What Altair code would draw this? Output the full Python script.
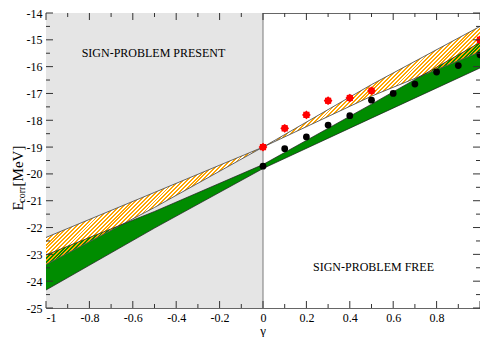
import altair as alt
import pandas as pd
import numpy as np

# ---------------- data ----------------
gamma_band = [-1.0, -0.5, 0.0, 0.5, 1.0]
orange_top = [-22.37, -20.69, -19.00, -16.67, -14.50]
orange_bot = [-23.38, -21.25, -19.00, -17.10, -15.45]
green_top = [-23.02, -21.40, -19.65, -17.40, -15.10]
green_bot = [-24.33, -22.02, -19.80, -17.92, -16.05]

gamma_red = [0.0, 0.1, 0.2, 0.3, 0.4, 0.5, 1.0]
e_red = [-19.0, -18.3, -17.8, -17.27, -17.17, -16.9, -15.0]

gamma_black = [0.0, 0.1, 0.2, 0.3, 0.4, 0.5, 0.6, 0.7, 0.8, 0.9, 1.0]
e_black = [-19.71, -19.06, -18.62, -18.18, -17.83, -17.25, -17.0, -16.65, -16.2, -15.96, -15.56]

x_major = [-1.0, -0.8, -0.6, -0.4, -0.2, 0.0, 0.2, 0.4, 0.6, 0.8, 1.0]
x_minor = [-0.9, -0.7, -0.5, -0.3, -0.1, 0.1, 0.3, 0.5, 0.7, 0.9]
x_labels = [-1.0, -0.8, -0.6, -0.4, -0.2, 0.0, 0.2, 0.4, 0.6, 0.8]
y_major = [-25, -24, -23, -22, -21, -20, -19, -18, -17, -16, -15, -14]
y_minor = [-24.5, -23.5, -22.5, -21.5, -20.5, -19.5, -18.5, -17.5, -16.5, -15.5, -14.5]

region_left = [-1.0]
region_right = [0.0]

title_text = "60 neutrons"
present_text = "SIGN-PROBLEM PRESENT"
free_text = "SIGN-PROBLEM FREE"

# ---------------- layout / style ----------------
W, H = 434, 295
PAD = {"left": 38, "top": 5, "right": 0, "bottom": 29}
FONT = "Liberation Serif"
ORANGE = "#ffa500"
GREEN = "#008c00"

band = pd.DataFrame({"g": gamma_band, "ot": orange_top, "ob": orange_bot,
                     "gt": green_top, "gb": green_bot})
red = pd.DataFrame({"g": gamma_red, "e": e_red})
black = pd.DataFrame({"g": gamma_black, "e": e_black})

xs = alt.Scale(domain=[-1, 1], nice=False, zero=False)
ys = alt.Scale(domain=[-25, -14], nice=False, zero=False)

X_AX = alt.Axis(values=x_labels, ticks=False, domain=False, grid=False, title=None,
                labelFont=FONT, labelFontSize=12, labelColor="black", labelPadding=4,
                labelExpr="(datum.value < 0 ? '-' : '') + format(abs(datum.value), '.1~f')")
Y_AX = alt.Axis(values=y_major, ticks=False, domain=False, grid=False, title=None,
                labelFont=FONT, labelFontSize=12, labelColor="black", labelPadding=4,
                labelExpr="(datum.value < 0 ? '-' : '') + format(abs(datum.value), 'd')")

X = lambda f: alt.X(f, type="quantitative", scale=xs, axis=X_AX)
Y = lambda f: alt.Y(f, type="quantitative", scale=ys, axis=Y_AX)

# grey "sign-problem present" region
grey = alt.Chart(pd.DataFrame({"a": region_left, "b": region_right})).mark_rect(
    color="#e5e5e5").encode(x=X("a"), x2="b", y=alt.value(0), y2=alt.value(H))

# white under-layer of the hatched band
under = alt.Chart(band).mark_area(color="white", opacity=1).encode(
    x=X("g"), y=Y("ot"), y2="ob")

green_area = alt.Chart(band).mark_area(color=GREEN, opacity=1).encode(
    x=X("g"), y=Y("gt"), y2="gb")

# hatch: hard-edged stripes via a linear gradient
bw, bh = W, (max(orange_top) - min(orange_bot)) / 11 * H
r = bh / bw
a = (1 + r) / (1 + r * r)
period = 2.7
n = int(round((bw + bh) / np.sqrt(2) / period))
stops = []
for i in range(n):
    stops += [alt.GradientStop(offset=i / n, color=ORANGE),
              alt.GradientStop(offset=(i + 0.5) / n, color=ORANGE),
              alt.GradientStop(offset=(i + 0.5) / n, color="rgba(255,255,255,0)"),
              alt.GradientStop(offset=(i + 1) / n, color="rgba(255,255,255,0)")]
hatch_fill = alt.Gradient(gradient="linear", stops=stops, x1=0, y1=0, x2=a, y2=a * r)

hatch = alt.Chart(band).mark_area(fill=hatch_fill, opacity=1).encode(
    x=X("g"), y=Y("ot"), y2="ob")

edge = lambda col, color, w: alt.Chart(band).mark_line(color=color, strokeWidth=w).encode(
    x=X("g"), y=Y(col))

edges = [edge("ot", "#555555", 0.9), edge("ob", "#555555", 0.9),
         edge("gt", "#1a1a1a", 0.7), edge("gb", "#1a1a1a", 0.7)]

zero_line = alt.Chart(pd.DataFrame({"a": region_right})).mark_rule(
    color="#7a7a7a", strokeWidth=1).encode(x=X("a"), y=alt.value(0), y2=alt.value(H))

# 8-point star for red symbols
pts = []
for k in range(16):
    ang = np.pi / 2 + k * np.pi / 8
    rad = 1.0 if k % 2 == 0 else 0.8
    pts.append(f"{rad*np.cos(ang):.3f},{-rad*np.sin(ang):.3f}")
star = "M" + "L".join(pts) + "Z"

red_pts = alt.Chart(red).mark_point(shape=star, filled=True, color="#ff0000",
                                    size=75, opacity=1).encode(x=X("g"), y=Y("e"))
black_pts = alt.Chart(black).mark_circle(color="black", size=46, opacity=1).encode(
    x=X("g"), y=Y("e"))

# inward ticks on all four sides
def xticks(vals, ln):
    d = pd.DataFrame({"v": vals})
    base = alt.Chart(d).mark_rule(color="#333333", strokeWidth=1)
    return [base.encode(x=X("v"), y=alt.value(H), y2=alt.value(H - ln)),
            base.encode(x=X("v"), y=alt.value(0), y2=alt.value(ln))]

def yticks(vals, ln):
    d = pd.DataFrame({"v": vals})
    base = alt.Chart(d).mark_rule(color="#333333", strokeWidth=1)
    return [base.encode(y=Y("v"), x=alt.value(0), x2=alt.value(ln)),
            base.encode(y=Y("v"), x=alt.value(W), x2=alt.value(W - ln))]

ticks = xticks(x_major, 7) + xticks(x_minor, 4) + yticks(y_major, 7) + yticks(y_minor, 4)

def label(text, x, y, size=12, angle=None, font=FONT, color="black", baseline="middle"):
    kw = dict(text=text, font=font, fontSize=size, color=color, align="center",
              baseline=baseline)
    if angle is not None:
        kw["angle"] = angle
    return alt.Chart(pd.DataFrame({"t": [0]})).mark_text(**kw).encode(
        x=alt.value(x), y=alt.value(y))

texts = [
    label(present_text, 107.5, 39.6, 12),
    label(free_text, 327.5, 253.7, 12),
    label("E", -28.5, 192.8, 15, angle=270),
    label("corr", -24, 181.7, 10, angle=270),
    label("[MeV]", -28.5, 153, 15, angle=270),
    label("\u03b3", W / 2, H + 23, 13),
    label(title_text, 200, -8, 22, font="Open Sans", color="#d81b60", baseline="bottom"),
]

chart = alt.layer(grey, under, green_area, hatch, *edges, zero_line,
                  red_pts, black_pts, *ticks, *texts).properties(
    width=W, height=H,
    autosize=alt.AutoSizeParams(type="none"),
    padding=PAD,
).configure_view(stroke="#666666", strokeWidth=1)

chart.save("out.html", embed_options={"renderer": "svg", "actions": False})
